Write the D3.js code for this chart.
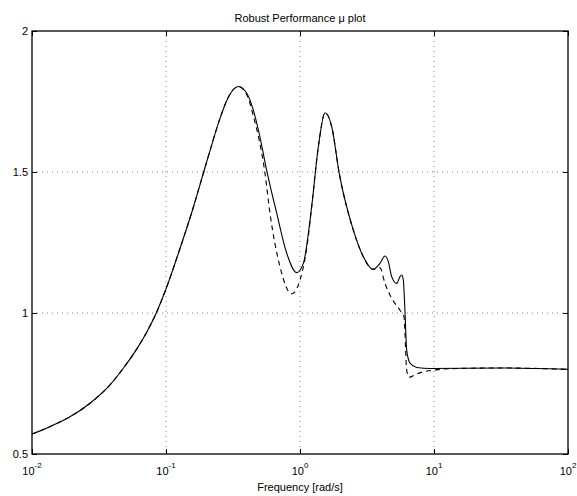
<!DOCTYPE html>
<html>
<head>
<meta charset="utf-8">
<script src="https://cdn.jsdelivr.net/npm/d3@7"></script>
<style>
  body { margin: 0; background: #fff; }
  text { font-family: "Liberation Sans", Arial, sans-serif; font-size: 11px; fill: #000; }
</style>
</head>
<body>
<div id="chart"></div>
<script>
// values
var xTicks = [0.01, 0.1, 1, 10, 100];
var xTickExp = ["-2", "-1", "0", "1", "2"];
var yTicks = [0.5, 1, 1.5, 2];
var yTickLabels = ["0.5", "1", "1.5", "2"];

// solid curve
var solidFreq = [0.01, 0.0136, 0.0192, 0.0271, 0.0382, 0.048, 0.0604, 0.0718, 0.0841, 0.1012,
  0.127, 0.160, 0.1845, 0.2128, 0.2529, 0.2917, 0.3467, 0.40, 0.4236, 0.448,
  0.502, 0.5636, 0.670, 0.796, 0.944, 1.059, 1.222, 1.371, 1.538, 1.726,
  1.963, 2.50, 2.965, 3.491, 3.954, 4.305, 4.56, 4.831, 5.272, 5.572,
  5.741, 5.902, 6.081, 6.252, 6.622, 7.43, 9.333, 31.6, 100];
var solidMu = [0.571, 0.597, 0.632, 0.680, 0.745, 0.804, 0.872, 0.932, 0.997, 1.092,
  1.228, 1.375, 1.475, 1.575, 1.69, 1.765, 1.803, 1.779, 1.755, 1.72,
  1.625, 1.507, 1.354, 1.212, 1.143, 1.176, 1.377, 1.59, 1.71, 1.66,
  1.495, 1.294, 1.2, 1.155, 1.176, 1.202, 1.182, 1.129, 1.105, 1.129,
  1.135, 1.117, 0.999, 0.869, 0.822, 0.807, 0.803, 0.805, 0.80];

// dashed curve
var dashFreq = [0.01, 0.0136, 0.0192, 0.0271, 0.0382, 0.048, 0.0604, 0.0718, 0.0841, 0.1012,
  0.127, 0.160, 0.1845, 0.2128, 0.2529, 0.2917, 0.3467, 0.40, 0.448, 0.548,
  0.597, 0.709, 0.867, 1.0, 1.153, 1.222, 1.371, 1.538, 1.726, 1.963,
  2.50, 2.965, 3.491, 3.954, 4.305, 4.831, 5.572, 5.97, 6.252, 6.50,
  7.43, 9.02, 10.0, 12.0, 31.6, 100];
var dashMu = [0.571, 0.597, 0.632, 0.680, 0.745, 0.804, 0.872, 0.932, 0.997, 1.092,
  1.228, 1.375, 1.475, 1.575, 1.69, 1.765, 1.803, 1.775, 1.70, 1.495,
  1.354, 1.164, 1.068, 1.117, 1.27, 1.377, 1.59, 1.71, 1.66, 1.495,
  1.294, 1.2, 1.155, 1.16, 1.105, 1.052, 1.01, 0.987, 0.798, 0.772,
  0.784, 0.795, 0.797, 0.802, 0.805, 0.80];

var margin = {top: 31, right: 9, bottom: 42, left: 32};
var width = 577 - margin.left - margin.right;
var height = 496 - margin.top - margin.bottom;

var svg = d3.select("#chart")
    .append("svg")
        .attr("width", 577)
        .attr("height", 496)
    .append("g")
        .attr("transform", "translate(" + margin.left + "," + margin.top + ")");

var x = d3.scaleLog().domain([0.01, 100]).range([0, width]);
var y = d3.scaleLinear().domain([0.5, 2]).range([height, 0]);

// grid
svg.append("g")
    .selectAll("line")
    .data(xTicks.slice(1, -1))
    .enter().append("line")
        .attr("x1", function(d) { return x(d); })
        .attr("x2", function(d) { return x(d); })
        .attr("y1", 0)
        .attr("y2", height)
        .attr("stroke", "#888")
        .attr("stroke-dasharray", "1,4");

svg.append("g")
    .selectAll("line")
    .data(yTicks.slice(1, -1))
    .enter().append("line")
        .attr("x1", 0)
        .attr("x2", width)
        .attr("y1", function(d) { return y(d); })
        .attr("y2", function(d) { return y(d); })
        .attr("stroke", "#888")
        .attr("stroke-dasharray", "1,4");

// axes with inward ticks on all four sides
function styleAxis(g) {
    g.select(".domain").remove();
    g.selectAll(".tick line").attr("stroke", "#000");
}
svg.append("g")
    .attr("transform", "translate(0," + height + ")")
    .call(d3.axisBottom(x).tickValues(xTicks).tickSize(-5).tickFormat(""))
    .call(styleAxis);
svg.append("g")
    .call(d3.axisTop(x).tickValues(xTicks).tickSize(-5).tickFormat(""))
    .call(styleAxis);
svg.append("g")
    .call(d3.axisLeft(y).tickValues(yTicks).tickSize(-5).tickFormat(""))
    .call(styleAxis);
svg.append("g")
    .attr("transform", "translate(" + width + ",0)")
    .call(d3.axisRight(y).tickValues(yTicks).tickSize(-5).tickFormat(""))
    .call(styleAxis);

// tick labels
var xl = svg.append("g").selectAll("text")
    .data(xTicks)
    .enter().append("text")
        .attr("x", function(d) { return x(d); })
        .attr("y", height + 21)
        .attr("text-anchor", "middle");
xl.append("tspan").text("10");
xl.append("tspan")
    .attr("dy", -7)
    .style("font-size", "8px")
    .text(function(d, i) { return xTickExp[i]; });

svg.append("g").selectAll("text")
    .data(yTicks)
    .enter().append("text")
        .attr("x", -4)
        .attr("y", function(d) { return y(d) + 4; })
        .attr("text-anchor", "end")
        .text(function(d, i) { return yTickLabels[i]; });

// curves
var line = d3.line()
    .x(function(d) { return x(d[0]); })
    .y(function(d) { return y(d[1]); })
    .curve(d3.curveMonotoneX);

svg.append("path")
    .datum(d3.zip(dashFreq, dashMu))
    .attr("fill", "none")
    .attr("stroke", "#000")
    .attr("stroke-width", 1.1)
    .attr("stroke-dasharray", "5,4")
    .attr("d", line);

svg.append("path")
    .datum(d3.zip(solidFreq, solidMu))
    .attr("fill", "none")
    .attr("stroke", "#000")
    .attr("stroke-width", 1.1)
    .attr("d", line);

// frame
svg.append("rect")
    .attr("width", width)
    .attr("height", height)
    .attr("fill", "none")
    .attr("stroke", "#000")
    .attr("stroke-width", 1.3);

// titles
svg.append("text")
    .attr("x", width / 2)
    .attr("y", -9)
    .attr("text-anchor", "middle")
    .text("Robust Performance \u03bc plot");

svg.append("text")
    .attr("x", width / 2)
    .attr("y", height + 37)
    .attr("text-anchor", "middle")
    .text("Frequency [rad/s]");
</script>
</body>
</html>
